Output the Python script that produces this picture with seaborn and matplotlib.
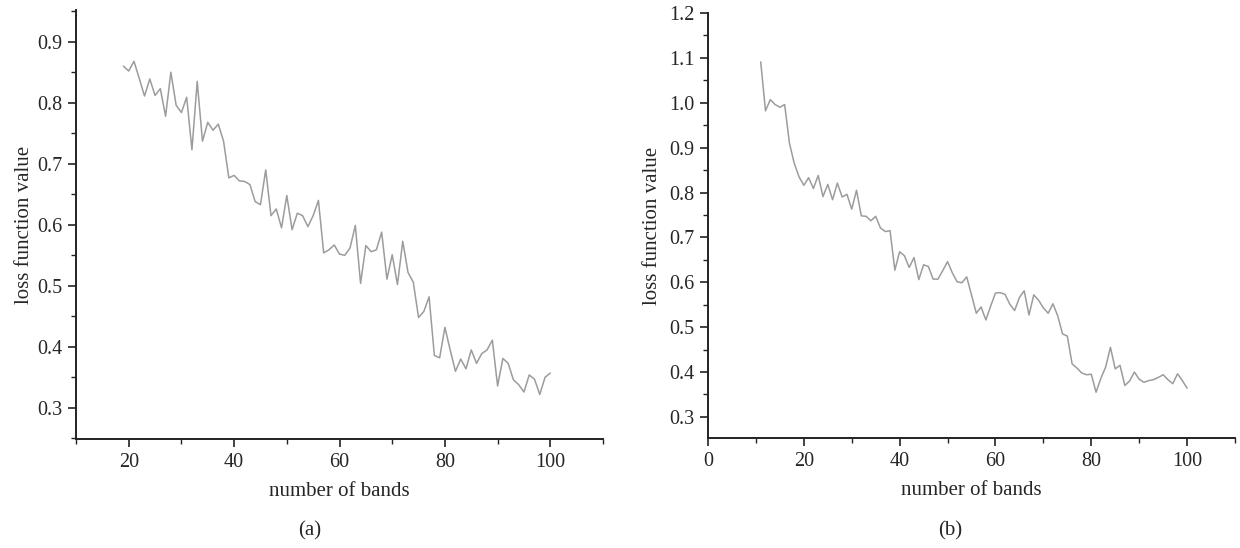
import matplotlib.pyplot as plt
import matplotlib.ticker as mticker
import seaborn as sns

# panel (a): bands 19..100
bands_a = list(range(19, 101))
loss_a = [0.860, 0.852, 0.868, 0.840, 0.811, 0.839, 0.812, 0.823, 0.778, 0.850,
          0.796, 0.784, 0.809, 0.723, 0.835, 0.737, 0.768, 0.755, 0.765, 0.737,
          0.677, 0.681, 0.672, 0.671, 0.666, 0.638, 0.633, 0.690, 0.615, 0.626,
          0.595, 0.648, 0.592, 0.619, 0.615, 0.597, 0.615, 0.640, 0.554, 0.559,
          0.567, 0.552, 0.550, 0.562, 0.599, 0.504, 0.566, 0.556, 0.559, 0.588,
          0.511, 0.551, 0.502, 0.573, 0.522, 0.506, 0.448, 0.458, 0.482, 0.386,
          0.382, 0.432, 0.395, 0.360, 0.380, 0.364, 0.395, 0.373, 0.389, 0.395,
          0.411, 0.336, 0.381, 0.373, 0.346, 0.338, 0.326, 0.354, 0.347, 0.322,
          0.350, 0.357]

# panel (b): bands 11..100
bands_b = list(range(11, 101))
loss_b = [1.091, 0.982, 1.007, 0.996, 0.990, 0.996, 0.910, 0.865, 0.835, 0.816,
          0.833, 0.809, 0.838, 0.791, 0.818, 0.784, 0.821, 0.790, 0.796, 0.763,
          0.805, 0.748, 0.747, 0.737, 0.747, 0.721, 0.713, 0.715, 0.627, 0.668,
          0.659, 0.633, 0.655, 0.606, 0.639, 0.635, 0.607, 0.607, 0.626, 0.646,
          0.621, 0.601, 0.599, 0.612, 0.572, 0.531, 0.545, 0.516, 0.547, 0.576,
          0.577, 0.573, 0.551, 0.537, 0.566, 0.581, 0.527, 0.572, 0.560, 0.543,
          0.531, 0.552, 0.525, 0.485, 0.480, 0.418, 0.409, 0.398, 0.394, 0.395,
          0.355, 0.386, 0.411, 0.455, 0.407, 0.415, 0.370, 0.380, 0.400, 0.384,
          0.377, 0.381, 0.383, 0.388, 0.394, 0.383, 0.374, 0.396, 0.381, 0.364]

sns.set_style("ticks")
plt.rcParams['font.family'] = ['Liberation Serif', 'DejaVu Serif']

fig = plt.figure(figsize=(12.4, 5.48), dpi=100)
ax1 = fig.add_axes([76 / 1240, 1 - 439 / 548, (603 - 76) / 1240, (439 - 10) / 548])
ax2 = fig.add_axes([708 / 1240, 1 - 438 / 548, (1235 - 708) / 1240, (438 - 13) / 548])

sns.lineplot(x=bands_a, y=loss_a, ax=ax1, color="#9c9c9c", linewidth=1.1)
sns.lineplot(x=bands_b, y=loss_b, ax=ax2, color="#9c9c9c", linewidth=1.1)

ax1.set_xlim(10, 110)
ax1.set_ylim(0.249, 0.952)
ax1.set_xticks([20, 40, 60, 80, 100])
ax1.set_yticks([0.3, 0.4, 0.5, 0.6, 0.7, 0.8, 0.9])

ax2.set_xlim(0, 110)
ax2.set_ylim(0.253, 1.2)
ax2.set_xticks([0, 20, 40, 60, 80, 100])
ax2.set_yticks([0.3, 0.4, 0.5, 0.6, 0.7, 0.8, 0.9, 1.0, 1.1, 1.2])

for ax, cap, cx, ypad in [(ax1, "(a)", 310, 2), (ax2, "(b)", 950, 5)]:
    sns.despine(ax=ax)
    ax.xaxis.set_minor_locator(mticker.MultipleLocator(10))
    ax.yaxis.set_minor_locator(mticker.MultipleLocator(0.05))
    ax.yaxis.set_major_formatter(mticker.FormatStrFormatter('%.1f'))
    for s in ["left", "bottom"]:
        ax.spines[s].set_linewidth(1.4)
        ax.spines[s].set_color("#222222")
    ax.tick_params(which="major", length=6, width=1.2, labelsize=14.5, color="#222222", pad=4)
    ax.tick_params(which="minor", length=3.5, width=1.0, color="#222222")
    ax.set_xlabel("number of bands", fontsize=15, labelpad=7)
    ax.set_ylabel("loss function value", fontsize=15, labelpad=ypad)
    fig.text(cx / 1240, 1 - 531 / 548, cap, ha="center", va="center", fontsize=15)

fig.savefig("out.png", dpi=100)
